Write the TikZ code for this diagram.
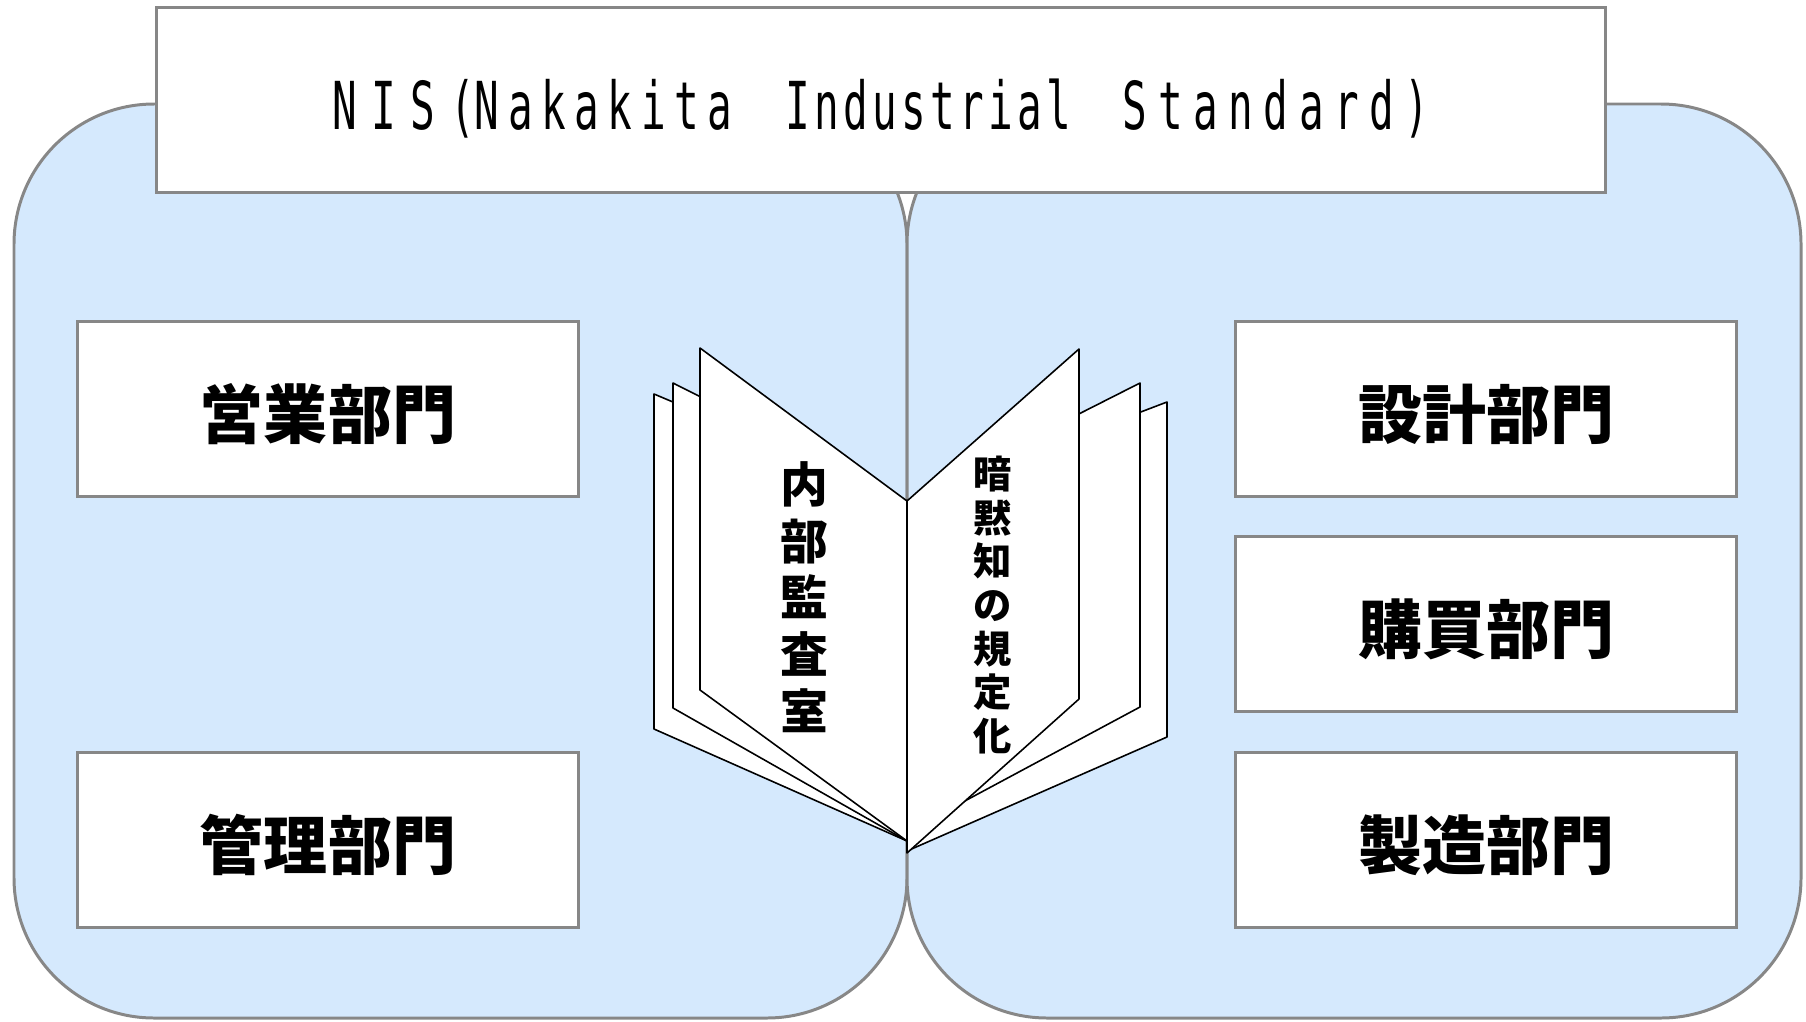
\documentclass[tikz,border=0pt]{standalone}
\usepackage{fontspec}
\usepackage{tikz}
\usetikzlibrary{positioning}
\newfontfamily\jpfont{Noto Sans CJK JP}
\newfontfamily\nisfont{DejaVu Sans Mono}[FakeStretch=0.62]
\definecolor{panelblue}{RGB}{213,233,253}
\definecolor{bordergray}{RGB}{135,135,135}
\newcommand{\spaced}[2]{{\addfontfeature{LetterSpace=#1}#2}}

\begin{document}
\begin{tikzpicture}
	[x=0.01cm,y=-0.01cm,
	panel/.style={draw=bordergray,fill=panelblue,line width=0.85pt,
		rounded corners=1.4cm},
	titlebox/.style={draw=bordergray,fill=white,line width=0.85pt,
		minimum width=14.48cm,minimum height=1.85cm,inner sep=0pt,
		text height=0.7cm,text depth=0.12cm,
		font=\nisfont\fontsize{18.8pt}{20pt}\selectfont},
	dept/.style={draw=bordergray,fill=white,line width=0.85pt,
		minimum width=5cm,minimum height=1.74cm,inner sep=0pt,
		text height=0.58cm,text depth=0cm,
		font=\jpfont\bfseries\fontsize{18.2pt}{20pt}\selectfont},
	leaf/.style={draw=black,fill=white,line width=0.45pt,line join=round},
	lefttext/.style={align=center,inner sep=0pt,
		font=\jpfont\bfseries\fontsize{13.6pt}{16.1pt}\selectfont},
	righttext/.style={align=center,inner sep=0pt,
		font=\jpfont\bfseries\fontsize{10.9pt}{12.4pt}\selectfont}]
\useasboundingbox (0,0) rectangle (1806,1021);
%paneles
\draw[panel] (14,104) rectangle (907,1018);
\draw[panel] (907,104) rectangle (1801,1018);
%titulo
\node[titlebox] (nis) at (881,100)
	{\spaced{22}{NIS(}\spaced{13}{Nakakita}\hspace{0.535cm}\spaced{6.5}{Industrial}\hspace{0.515cm}\spaced{16}{Standard)}};
%departamentos
\node[dept] (sales) at (328,409) {営業部門};
\node[dept] (admin) at (328,840) {管理部門};
\node[dept] (design) at (1486,409) {設計部門};
\node[dept] (purchase) at (1486,624) {購買部門};
\node[dept] (factory) at (1486,840) {製造部門};
%libro
\coordinate (spinetop) at (907,501);
\coordinate (spinebot) at (907,853);
\draw[leaf] (654,394) -- (spinetop) -- (907,841) -- (654,729) -- cycle;
\draw[leaf] (673,383) -- (spinetop) -- (907,841) -- (673,708) -- cycle;
\draw[leaf] (700,348) -- (spinetop) -- (907,841) -- (700,690) -- cycle;
\draw[leaf] (spinetop) -- (1167,402) -- (1167,737) -- (907,851) -- cycle;
\draw[leaf] (spinetop) -- (1140,383) -- (1140,707) -- (907,832) -- cycle;
\draw[leaf] (spinetop) -- (1079,349) -- (1079,699) -- (spinebot) -- cycle;
\draw[black,line width=0.45pt] (spinetop) -- (spinebot);
\node[lefttext] (audit) at (804,597) {内\\部\\監\\査\\室};
\node[righttext] (tacit) at (993,605) {暗\\黙\\知\\の\\規\\定\\化};
\end{tikzpicture}
\end{document}
